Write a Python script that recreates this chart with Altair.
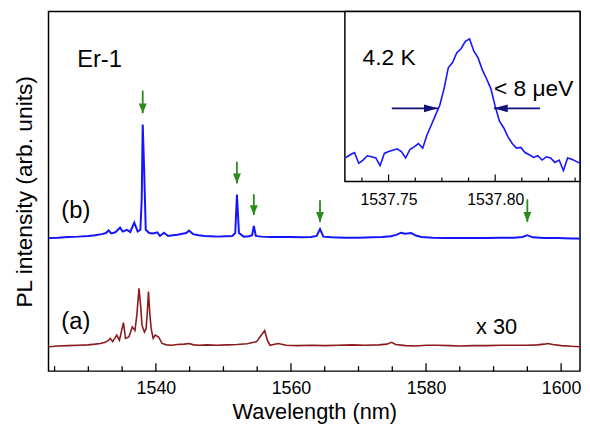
import altair as alt
import pandas as pd

# ---------------- main spectrum data ----------------
blue_nm = [1524.2, 1525.5, 1527.0, 1528.5, 1530.0, 1531.0, 1532.0, 1532.6, 1533.0, 1533.4,
           1534.0, 1534.7, 1535.1, 1535.7, 1536.2, 1536.8, 1537.3, 1537.7, 1537.9, 1538.05,
           1538.25, 1538.5, 1539.0, 1539.6, 1540.2, 1540.6, 1541.2, 1541.8, 1542.5, 1543.2,
           1543.9, 1544.5, 1544.9, 1545.5, 1546.3, 1547.2, 1548.2, 1549.2, 1550.3, 1551.3,
           1551.75, 1552.0, 1552.3, 1553.0, 1553.8, 1554.25, 1554.5, 1554.8, 1555.6, 1557.0,
           1558.5, 1560.0, 1561.5, 1563.0, 1563.8, 1564.3, 1564.8, 1566.0, 1568.0, 1570.0,
           1572.0, 1573.5, 1574.8, 1575.6, 1576.3, 1576.9, 1577.8, 1578.5, 1579.3, 1581.0,
           1583.0, 1585.0, 1587.0, 1589.0, 1591.0, 1593.0, 1594.3, 1595.0, 1595.8, 1597.5,
           1599.5, 1601.5, 1602.8]
blue_int = [0.370, 0.371, 0.373, 0.374, 0.376, 0.378, 0.381, 0.384, 0.391, 0.383,
            0.386, 0.399, 0.388, 0.393, 0.387, 0.413, 0.388, 0.393, 0.475, 0.686,
            0.567, 0.393, 0.384, 0.383, 0.386, 0.376, 0.385, 0.376, 0.378, 0.379,
            0.382, 0.384, 0.391, 0.381, 0.378, 0.376, 0.375, 0.374, 0.375, 0.376,
            0.384, 0.491, 0.384, 0.374, 0.375, 0.378, 0.404, 0.376, 0.374, 0.373,
            0.373, 0.373, 0.372, 0.373, 0.376, 0.395, 0.374, 0.372, 0.371, 0.371,
            0.372, 0.373, 0.375, 0.379, 0.385, 0.382, 0.384, 0.377, 0.373, 0.371,
            0.370, 0.370, 0.370, 0.370, 0.371, 0.371, 0.373, 0.378, 0.372, 0.370,
            0.370, 0.369, 0.369]

red_nm = [1524.2, 1525.5, 1527.0, 1528.5, 1530.0, 1531.0, 1531.8, 1532.5, 1533.0, 1533.25,
          1533.6, 1534.2, 1534.6, 1535.2, 1535.5, 1536.0, 1536.5, 1536.9, 1537.2, 1537.5,
          1537.75, 1537.95, 1538.3, 1538.55, 1538.75, 1538.9, 1539.1, 1539.3, 1539.6, 1539.9,
          1540.4, 1540.9, 1541.6, 1542.3, 1543.2, 1544.2, 1544.9, 1545.6, 1546.5, 1547.5,
          1549.0, 1550.5, 1552.0, 1553.5, 1554.9, 1555.6, 1556.1, 1556.5, 1556.9, 1558.1,
          1559.3, 1561.0, 1563.0, 1565.0, 1567.0, 1569.0, 1571.0, 1573.0, 1574.2, 1574.9,
          1575.5, 1577.0, 1578.5, 1580.0, 1581.6, 1583.5, 1585.0, 1587.0, 1589.0, 1591.0,
          1593.0, 1595.0, 1596.5, 1597.5, 1598.0, 1598.8, 1600.0, 1601.5, 1602.8]
red_int = [0.068, 0.070, 0.071, 0.072, 0.073, 0.075, 0.077, 0.080, 0.086, 0.091,
           0.082, 0.100, 0.086, 0.135, 0.091, 0.095, 0.123, 0.113, 0.160, 0.230,
           0.180, 0.127, 0.109, 0.118, 0.170, 0.221, 0.160, 0.118, 0.091, 0.100,
           0.095, 0.077, 0.073, 0.072, 0.074, 0.075, 0.077, 0.073, 0.072, 0.073,
           0.072, 0.073, 0.074, 0.076, 0.082, 0.100, 0.113, 0.086, 0.072, 0.077,
           0.072, 0.071, 0.072, 0.071, 0.072, 0.073, 0.072, 0.073, 0.075, 0.080,
           0.074, 0.071, 0.070, 0.072, 0.072, 0.071, 0.070, 0.071, 0.071, 0.072,
           0.072, 0.072, 0.073, 0.075, 0.077, 0.074, 0.071, 0.069, 0.068]

arrow_nm = [1538.05, 1552.0, 1554.5, 1564.3, 1595.0]
arrow_top = [0.780, 0.582, 0.492, 0.475, 0.478]
arrow_tip = [0.717, 0.522, 0.434, 0.415, 0.415]

main_major = [1540, 1560, 1580, 1600]
main_minor = [1525, 1530, 1535, 1545, 1550, 1555, 1565, 1570, 1575, 1585, 1590, 1595]

label_text = ["Er-1", "(b)", "(a)"]
label_nm = [1528.34, 1526.0, 1526.0]
label_y = [0.846, 0.426, 0.118]
scale_text = ["x 30"]
scale_nm = [1587.4]
scale_y = [0.104]

# ---------------- inset data ----------------
inset_nm = [1537.730, 1537.732, 1537.734, 1537.736, 1537.738, 1537.740, 1537.742, 1537.744,
            1537.746, 1537.748, 1537.750, 1537.752, 1537.754, 1537.756, 1537.758, 1537.760,
            1537.762, 1537.764, 1537.766, 1537.768, 1537.770, 1537.772, 1537.774, 1537.776,
            1537.778, 1537.780, 1537.782, 1537.784, 1537.786, 1537.788, 1537.790, 1537.792,
            1537.794, 1537.796, 1537.798, 1537.800, 1537.802, 1537.804, 1537.806, 1537.808,
            1537.810, 1537.812, 1537.814, 1537.816, 1537.818, 1537.820, 1537.822, 1537.824,
            1537.826, 1537.828, 1537.830, 1537.832, 1537.834, 1537.836, 1537.838, 1537.840]
inset_int = [0.141, 0.157, 0.170, 0.107, 0.126, 0.151, 0.145, 0.138, 0.093, 0.165,
             0.176, 0.184, 0.192, 0.176, 0.138, 0.188, 0.203, 0.223, 0.196, 0.273,
             0.331, 0.390, 0.448, 0.545, 0.669, 0.700, 0.758, 0.781, 0.824, 0.839,
             0.766, 0.727, 0.655, 0.603, 0.545, 0.442, 0.355, 0.316, 0.262, 0.223,
             0.196, 0.200, 0.170, 0.157, 0.141, 0.151, 0.126, 0.145, 0.138, 0.112,
             0.126, 0.064, 0.138, 0.130, 0.118, 0.107]

inset_domain = [1537.7295, 1537.8398]
inset_major = [1537.75, 1537.80]
inset_minor = [1537.7375, 1537.7625, 1537.775, 1537.7875, 1537.8125, 1537.825, 1537.8375]

fwhm_tail = [1537.7515, 1537.8210]
fwhm_head = [1537.7731, 1537.7994]
fwhm_y = [0.43, 0.43]

inset_text = ["4.2 K", "< 8 \u03bceV"]
inset_text_nm = [1537.7378, 1537.7994]
inset_text_y = [0.686, 0.500]

# ---------------- styling ----------------
W, H = 538, 364
BLUE = "#1414ff"
RED = "#8b1a1a"
GREEN = "#2a8a1a"
NAVY = "#12127a"
FONT = "Liberation Sans"
HEAD_DOWN = "M0,1L-0.8,-1L0.8,-1Z"
HEAD_RIGHT = "M1,0L-1,-0.55L-1,0.55Z"
HEAD_LEFT = "M-1,0L1,-0.55L1,0.55Z"

xm = alt.X("x:Q",
           scale=alt.Scale(domain=[1524.1, 1602.8], nice=False, zero=False),
           axis=alt.Axis(values=main_major, format="d", ticks=False, domain=False, grid=False,
                         labelFontSize=18, labelPadding=9, labelColor="black",
                         title="Wavelength (nm)", titleFontSize=22, titleFontWeight="normal",
                         titleY=48, titleBaseline="alphabetic", titleColor="black"))
ym = alt.Y("y:Q",
           scale=alt.Scale(domain=[0, 1], nice=False, zero=False),
           axis=alt.Axis(labels=False, ticks=False, domain=False, grid=False,
                         title="PL intensity (arb. units)", titleFontSize=23,
                         titleFontWeight="normal", titleX=-17, titleY=182, titleAngle=270,
                         titleAlign="center", titleBaseline="alphabetic", titleColor="black"))

blue_df = pd.DataFrame({"x": blue_nm, "y": blue_int})
red_df = pd.DataFrame({"x": red_nm, "y": red_int})
arr_df = pd.DataFrame({"x": arrow_nm, "y": arrow_top, "y2": arrow_tip})
maj_df = pd.DataFrame({"x": main_major})
min_df = pd.DataFrame({"x": main_minor})
lab_df = pd.DataFrame({"x": label_nm, "y": label_y, "t": label_text})
sc_df = pd.DataFrame({"x": scale_nm, "y": scale_y, "t": scale_text})

blue_line = alt.Chart(blue_df).mark_line(color=BLUE, strokeWidth=2).encode(x=xm, y=ym)
red_line = alt.Chart(red_df).mark_line(color=RED, strokeWidth=1.6).encode(x=xm, y=ym)
arr_shaft = alt.Chart(arr_df).mark_rule(color=GREEN, strokeWidth=1.8).encode(x=xm, y=ym, y2="y2:Q")
arr_head = alt.Chart(arr_df).mark_point(shape=HEAD_DOWN, filled=True, size=100, color=GREEN,
                                         opacity=1, strokeWidth=0, yOffset=-5).encode(
    x=xm, y=alt.Y("y2:Q"))
maj_ticks = alt.Chart(maj_df).mark_rule(color="black", strokeWidth=1.3).encode(
    x=xm, y=alt.value(H), y2=alt.value(H - 8))
min_ticks = alt.Chart(min_df).mark_rule(color="black", strokeWidth=1.3).encode(
    x=xm, y=alt.value(H), y2=alt.value(H - 5))
labels = alt.Chart(lab_df).mark_text(align="left", baseline="alphabetic", fontSize=24,
                                     font=FONT, color="black").encode(x=xm, y=ym, text="t:N")
scale_lab = alt.Chart(sc_df).mark_text(align="left", baseline="alphabetic", fontSize=22,
                                       font=FONT, color="black").encode(x=xm, y=ym, text="t:N")

main = alt.layer(blue_line, red_line, arr_shaft, arr_head, maj_ticks, min_ticks, labels, scale_lab)

# ---------------- inset ----------------
IH = 172
xi = alt.X("x:Q",
           scale=alt.Scale(domain=inset_domain, range=[300, W], nice=False, zero=False),
           axis=alt.Axis(orient="bottom", offset=-(H - IH), values=inset_major, format=".2f",
                         ticks=False, domain=False, grid=False, labelFontSize=16,
                         labelPadding=10, labelColor="black", title=None))
yi = alt.Y("y:Q", scale=alt.Scale(domain=[0, 1], range=[IH, 0], nice=False, zero=False), axis=None)

frame_df = pd.DataFrame({"x": [inset_domain[0]], "x2": [inset_domain[1]], "y": [0], "y2": [1]})
ins_df = pd.DataFrame({"x": inset_nm, "y": inset_int})
fw_df = pd.DataFrame({"x": fwhm_tail, "x2": fwhm_head, "y": fwhm_y})
fw_l = fw_df.iloc[[0]]
fw_r = fw_df.iloc[[1]]
imaj_df = pd.DataFrame({"x": inset_major})
imin_df = pd.DataFrame({"x": inset_minor})
itext_df = pd.DataFrame({"x": inset_text_nm, "y": inset_text_y, "t": inset_text})

frame = alt.Chart(frame_df).mark_rect(fill="white", stroke="black", strokeWidth=1.5).encode(
    x=xi, x2="x2:Q", y=yi, y2="y2:Q")
ins_line = alt.Chart(ins_df).mark_line(color=BLUE, strokeWidth=1.6).encode(x=xi, y=yi)
fw_shaft = alt.Chart(fw_df).mark_rule(color=NAVY, strokeWidth=2).encode(x=xi, x2="x2:Q", y=yi)
fw_head_l = alt.Chart(fw_l).mark_point(shape=HEAD_RIGHT, filled=True, size=196, color=NAVY,
                                        opacity=1, strokeWidth=0, xOffset=-7).encode(
    x=alt.X("x2:Q"), y=yi)
fw_head_r = alt.Chart(fw_r).mark_point(shape=HEAD_LEFT, filled=True, size=196, color=NAVY,
                                        opacity=1, strokeWidth=0, xOffset=7).encode(
    x=alt.X("x2:Q"), y=yi)
imaj = alt.Chart(imaj_df).mark_rule(color="black", strokeWidth=1.2).encode(
    x=xi, y=alt.value(IH), y2=alt.value(IH - 7))
imin = alt.Chart(imin_df).mark_rule(color="black", strokeWidth=1.2).encode(
    x=xi, y=alt.value(IH), y2=alt.value(IH - 4))
itext = alt.Chart(itext_df).mark_text(align="left", baseline="alphabetic", fontSize=23,
                                      font=FONT, color="black").encode(x=xi, y=yi, text="t:N")

inset = alt.layer(frame, ins_line, fw_shaft, fw_head_l, fw_head_r, imaj, imin, itext)

chart = alt.layer(main, inset).resolve_scale(x="independent", y="independent").properties(
    width=W, height=H,
    padding={"left": 41, "top": 1, "right": 2, "bottom": 54},
    autosize=alt.AutoSizeParams(type="none"),
).configure(font=FONT).configure_view(stroke="black", strokeWidth=1.5).configure_axis(
    labelFont=FONT, titleFont=FONT)

chart.save("out.html", embed_options={"renderer": "svg", "actions": False})
